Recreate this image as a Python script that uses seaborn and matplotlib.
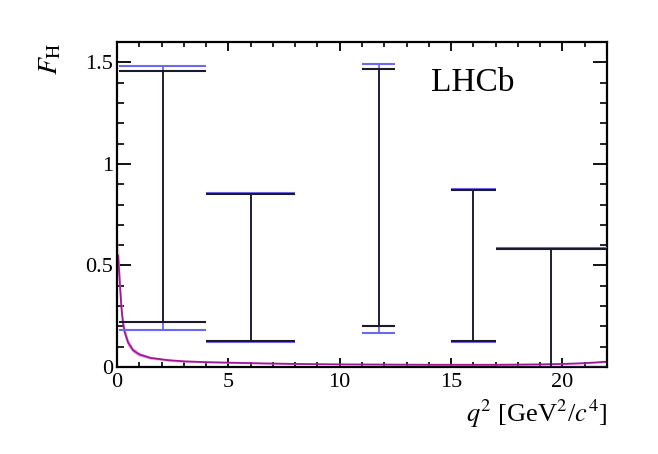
import matplotlib
matplotlib.use("Agg")
import matplotlib.pyplot as plt
import seaborn as sns
import numpy as np
import pandas as pd
from matplotlib.ticker import MultipleLocator, FixedFormatter, FixedLocator

# ---- data ----
bin_lo = [0.1, 4.0, 11.0, 15.0, 17.0]
bin_hi = [4.0, 8.0, 12.5, 17.0, 22.0]
bin_center = [2.05, 6.0, 11.75, 16.0, 19.5]
black_lo = [0.222, 0.127, 0.202, 0.127, 0.0]
black_hi = [1.456, 0.851, 1.467, 0.871, 0.582]
blue_lo = [0.181, 0.122, 0.165, 0.125, 0.0]
blue_hi = [1.480, 0.856, 1.492, 0.874, 0.584]

curve_q2 = [0.05, 0.1, 0.15, 0.2, 0.27, 0.35, 0.5, 0.72, 1.0, 1.5, 2.26, 3.0, 4.0, 5.2, 6.5, 8.0,
            10.0, 12.0, 14.0, 15.0, 16.0, 17.0, 18.0, 19.0, 20.0, 21.0, 22.0]
curve_fh = [0.55, 0.46, 0.37, 0.29, 0.215, 0.17, 0.12, 0.083, 0.062, 0.045, 0.034, 0.028, 0.024, 0.021, 0.018, 0.015,
            0.013, 0.012, 0.011, 0.011, 0.011, 0.011, 0.012, 0.013, 0.015, 0.019, 0.026]

xticks = [0, 5, 10, 15, 20]
xticklabels = ["0", "5", "10", "15", "20"]
yticks = [0, 0.5, 1.0, 1.5]
yticklabels = ["0", "0.5", "1", "1.5"]

sns.set_theme(style="ticks")
plt.rcParams['font.family'] = ['Liberation Serif', 'DejaVu Serif']
plt.rcParams['mathtext.fontset'] = 'stix'

fig = plt.figure(figsize=(6.58, 4.54), dpi=100)
ax = fig.add_axes([117/658, 1 - 367/454, (607-117)/658, (367-42)/454])

df = pd.DataFrame({"q2": curve_q2, "FH": curve_fh})
ax.fill_between(df["q2"], np.array(curve_fh) * 0.85, np.array(curve_fh) * 1.15,
                color="#e8a8e0", lw=0, zorder=1)
sns.lineplot(data=df, x="q2", y="FH", ax=ax, color="#a0189a", lw=1.3, zorder=2)

# blue (outer) intervals
ax.vlines(bin_center, blue_lo, blue_hi, color="#6a6af0", lw=1.3, zorder=3)
ax.hlines(blue_hi, bin_lo, bin_hi, color="#6a6af0", lw=1.5, zorder=3)
ax.hlines(blue_lo, bin_lo, bin_hi, color="#6a6af0", lw=1.5, zorder=3)
# black intervals
ax.vlines(bin_center, black_lo, black_hi, color="#1a1a2a", lw=1.3, zorder=4)
ax.hlines(black_hi, bin_lo, bin_hi, color="#1a1a2a", lw=1.5, zorder=4)
ax.hlines(black_lo, bin_lo, bin_hi, color="#1a1a2a", lw=1.5, zorder=4)

ax.set_xlim(0, 22)
ax.set_ylim(0, 1.6)
ax.xaxis.set_major_locator(FixedLocator(xticks))
ax.xaxis.set_major_formatter(FixedFormatter(xticklabels))
ax.xaxis.set_minor_locator(MultipleLocator(1))
ax.yaxis.set_major_locator(FixedLocator(yticks))
ax.yaxis.set_major_formatter(FixedFormatter(yticklabels))
ax.yaxis.set_minor_locator(MultipleLocator(0.1))

ax.tick_params(axis='both', which='both', direction='in', top=True, right=True,
               color='black', labelsize=16, labelcolor='black')
ax.tick_params(axis='x', which='major', length=6.5, width=1.3, pad=4)
ax.tick_params(axis='x', which='minor', length=3.5, width=1.2)
ax.tick_params(axis='y', which='major', length=10, width=1.3, pad=3)
ax.tick_params(axis='y', which='minor', length=5, width=1.2)
for s in ax.spines.values():
    s.set_linewidth(1.6)
    s.set_color('black')
    s.set_visible(True)

ax.set_xlabel(r"$q^2$ [GeV$^2$/$c^4$]", fontsize=19, ha='right', va='top', x=1.0, color='black')
ax.set_ylabel(r"$F_{\rm H}$", fontsize=20, ha='right', y=1.0, color='black')
ax.yaxis.set_label_coords(-0.11, 1.0)
ax.xaxis.set_label_coords(1.0, -0.095)

ax.text(0.727, 0.874, "LHCb", transform=ax.transAxes, fontsize=24, ha='center', va='center', color='black')

fig.savefig("out.png", dpi=100)
